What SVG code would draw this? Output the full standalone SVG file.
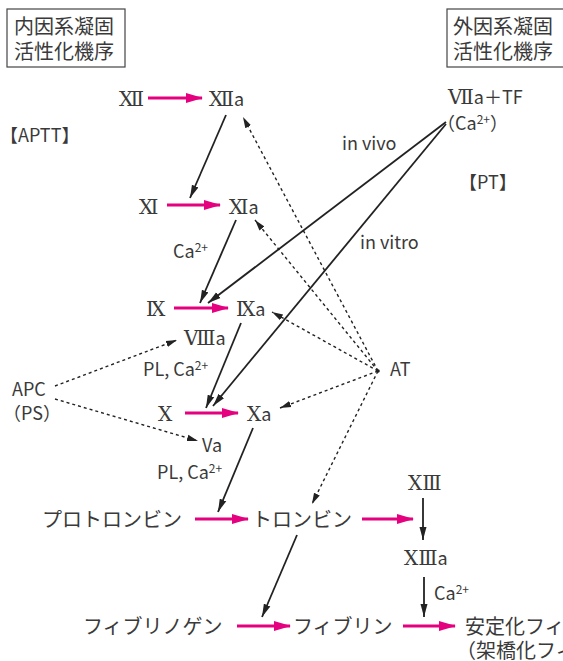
<svg xmlns="http://www.w3.org/2000/svg" width="563" height="661" viewBox="0 0 563 661">
<style>
text{font-family:"Noto Sans CJK JP","Noto Sans",sans-serif;fill:#3a3a3a;font-size:18px}
.jp{font-size:20px}
.rn{font-family:"DejaVu Serif","Liberation Serif","Noto Sans CJK JP",serif;font-size:20px}
.sup{font-size:12px}
.pink{stroke:#e4007f;stroke-width:3;fill:none}
.blk{stroke:#222;stroke-width:1.8;fill:none}
.dot{stroke:#222;stroke-width:1.4;stroke-dasharray:3 3;fill:none}
.box{fill:#fff;stroke:#444;stroke-width:1.2}
</style>
<defs>
<marker id="mp" markerUnits="userSpaceOnUse" markerWidth="18" markerHeight="12" refX="16" refY="6" orient="auto"><path d="M0,1 L17,6 L0,11 z" fill="#e4007f"/></marker>
<marker id="mb" markerUnits="userSpaceOnUse" markerWidth="14" markerHeight="8" refX="13" refY="4" orient="auto"><path d="M0,0.5 L13,4 L0,7.5 z" fill="#222"/></marker>
<marker id="md" markerUnits="userSpaceOnUse" markerWidth="12" markerHeight="8" refX="11" refY="4" orient="auto"><path d="M0,0.8 L11,4 L0,7.2 z" fill="#222"/></marker>
</defs>

<g id="box-intrinsic"><rect class="box" x="7" y="9" width="118" height="58"/><text class="jp" x="14" y="34">内因系凝固</text><text class="jp" x="14" y="59">活性化機序</text></g>
<g id="box-extrinsic"><rect class="box" x="447" y="9" width="125" height="58"/><text class="jp" x="453" y="34">外因系凝固</text><text class="jp" x="453" y="59">活性化機序</text></g>

<g id="connectors">
<line class="pink" x1="148" y1="98" x2="202" y2="98" marker-end="url(#mp)"/>
<line class="pink" x1="167" y1="205" x2="220" y2="205" marker-end="url(#mp)"/>
<line class="pink" x1="174" y1="308" x2="228" y2="308" marker-end="url(#mp)"/>
<line class="pink" x1="185" y1="413" x2="238" y2="413" marker-end="url(#mp)"/>
<line class="pink" x1="195" y1="519" x2="248" y2="519" marker-end="url(#mp)"/>
<line class="pink" x1="362" y1="519" x2="413" y2="519" marker-end="url(#mp)"/>
<line class="pink" x1="237" y1="626" x2="290" y2="626" marker-end="url(#mp)"/>
<line class="pink" x1="403" y1="626" x2="455" y2="626" marker-end="url(#mp)"/>

<line class="blk" x1="226" y1="115" x2="190" y2="198" marker-end="url(#mb)"/>
<line class="blk" x1="236" y1="220" x2="200" y2="303" marker-end="url(#mb)"/>
<line class="blk" x1="446" y1="122" x2="208" y2="303" marker-end="url(#mb)"/>
<line class="blk" x1="446" y1="124" x2="213" y2="406" marker-end="url(#mb)"/>
<line class="blk" x1="241" y1="323" x2="206" y2="408" marker-end="url(#mb)"/>
<line class="blk" x1="253" y1="428" x2="218" y2="512" marker-end="url(#mb)"/>
<line class="blk" x1="297" y1="535" x2="262" y2="617" marker-end="url(#mb)"/>
<line class="blk" x1="423" y1="498" x2="423" y2="540" marker-end="url(#mb)"/>
<line class="blk" x1="424" y1="577" x2="424" y2="617" marker-end="url(#mb)"/>

<circle cx="378" cy="371" r="1.8" fill="#222"/>
<line class="dot" x1="378" y1="371" x2="243" y2="117" marker-end="url(#md)"/>
<line class="dot" x1="378" y1="371" x2="255" y2="220" marker-end="url(#md)"/>
<line class="dot" x1="378" y1="371" x2="272" y2="312" marker-end="url(#md)"/>
<line class="dot" x1="378" y1="371" x2="280" y2="408" marker-end="url(#md)"/>
<line class="dot" x1="378" y1="371" x2="312" y2="504" marker-end="url(#md)"/>
<line class="dot" x1="55" y1="386" x2="177" y2="340" marker-end="url(#md)"/>
<line class="dot" x1="55" y1="399" x2="198" y2="441" marker-end="url(#md)"/>
</g>

<g id="n-XII"><text class="rn" x="119" y="106">Ⅻ</text></g>
<g id="n-XIIa"><text x="209" y="106"><tspan class="rn">Ⅻ</tspan>a</text></g>
<g id="l-APTT"><text x="0" y="142">【APTT】</text></g>
<g id="n-VIIaTF"><text x="448" y="104"><tspan class="rn">Ⅶ</tspan>a＋TF</text><text x="437" y="130">（Ca<tspan class="sup" dy="-6">2+</tspan><tspan dy="6">）</tspan></text></g>
<g id="l-invivo"><text x="342" y="150">in vivo</text></g>
<g id="l-PT"><text x="459" y="189">【PT】</text></g>
<g id="l-invitro"><text x="360" y="249">in vitro</text></g>
<g id="n-XI"><text class="rn" x="139" y="214">Ⅺ</text></g>
<g id="n-XIa"><text x="229" y="214"><tspan class="rn">Ⅺ</tspan>a</text></g>
<g id="l-Ca1"><text x="173" y="258">Ca<tspan class="sup" dy="-6">2+</tspan></text></g>
<g id="n-IX"><text class="rn" x="146" y="316">Ⅸ</text></g>
<g id="n-IXa"><text x="236" y="316"><tspan class="rn">Ⅸ</tspan>a</text></g>
<g id="n-VIIIa"><text x="184" y="345"><tspan class="rn">Ⅷ</tspan>a</text></g>
<g id="l-PLCa1"><text x="143" y="376">PL, Ca<tspan class="sup" dy="-6">2+</tspan></text></g>
<g id="n-APC"><text x="12" y="396">APC</text><text x="3" y="420">（PS）</text></g>
<g id="n-X"><text class="rn" x="158" y="421">Ⅹ</text></g>
<g id="n-Xa"><text x="247" y="421"><tspan class="rn">Ⅹ</tspan>a</text></g>
<g id="n-AT"><text x="390" y="376">AT</text></g>
<g id="n-Va"><text x="202" y="452">Va</text></g>
<g id="l-PLCa2"><text x="157" y="479">PL, Ca<tspan class="sup" dy="-6">2+</tspan></text></g>
<g id="n-prothrombin"><text class="jp" x="42" y="527">プロトロンビン</text></g>
<g id="n-thrombin"><text class="jp" x="252" y="527">トロンビン</text></g>
<g id="n-XIII"><text class="rn" x="408" y="490">ⅩⅢ</text></g>
<g id="n-XIIIa"><text x="404" y="565"><tspan class="rn">ⅩⅢ</tspan>a</text></g>
<g id="l-Ca2"><text x="434" y="600">Ca<tspan class="sup" dy="-6">2+</tspan></text></g>
<g id="n-fibrinogen"><text class="jp" x="83" y="634">フィブリノゲン</text></g>
<g id="n-fibrin"><text class="jp" x="293" y="634">フィブリン</text></g>
<g id="n-stable"><text class="jp" x="465" y="634">安定化フィブリン</text><text class="jp" x="456" y="658">（架橋化フィブリン）</text></g>
</svg>
